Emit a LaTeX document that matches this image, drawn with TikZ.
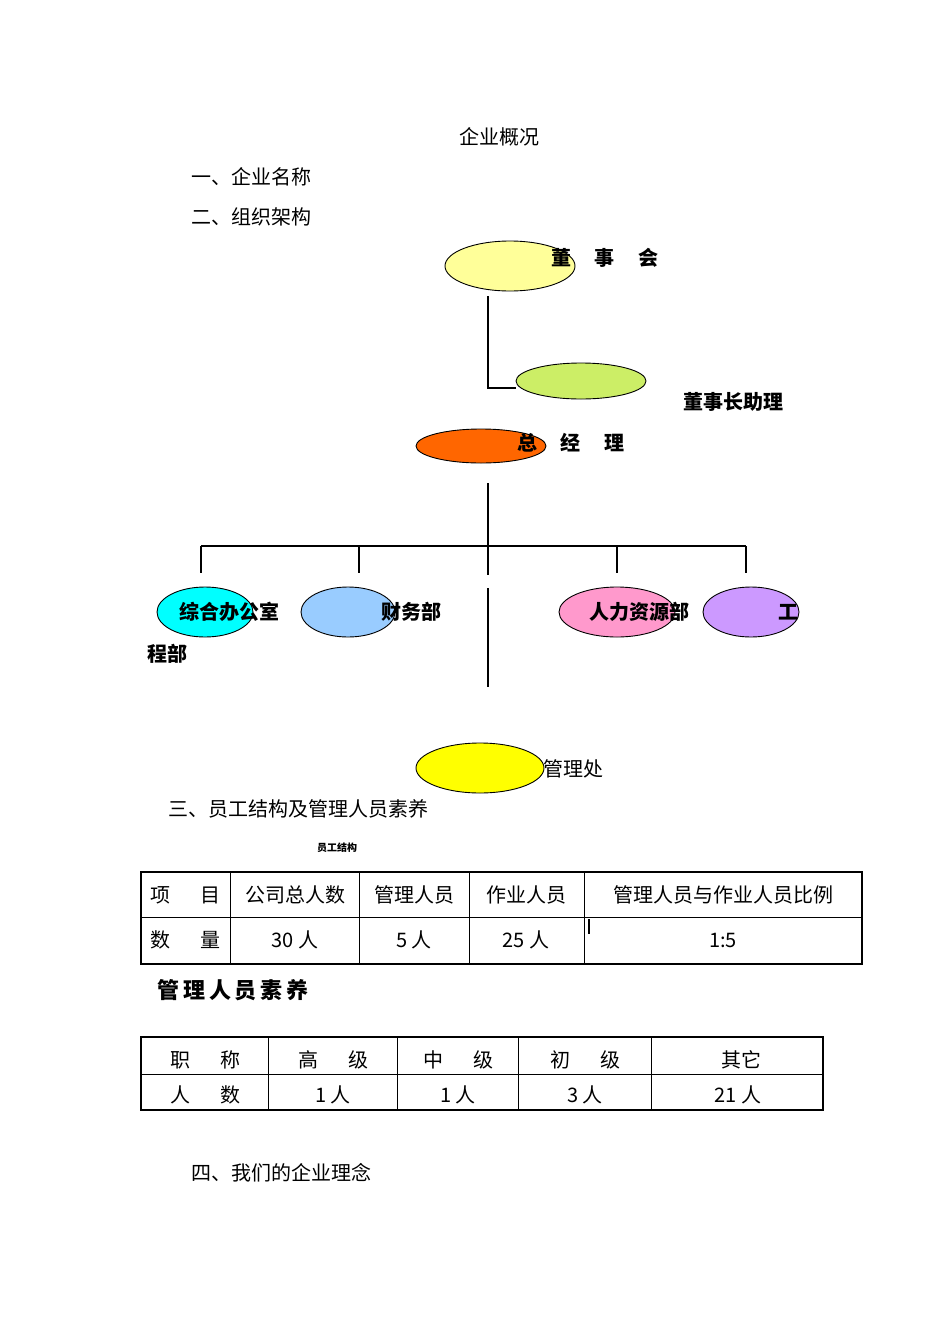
\documentclass[tikz,border=0pt]{standalone}
\usepackage{fontspec}
\setmainfont{Noto Sans CJK SC}
\begin{document}
\begin{tikzpicture}[x=1pt,y=-1pt,
  ell/.style={draw,ellipse,line width=0.9pt},
  lbl/.style={font=\fontsize{20}{24}\selectfont\bfseries,inner sep=0},
  txt/.style={font=\fontsize{20}{24}\selectfont,inner sep=0},
  ln/.style={line width=1.2pt},
  tb/.style={line width=2.5pt},
  tc/.style={line width=1pt}]
\useasboundingbox[fill=white] (0,0) rectangle (950,1344);
\node[txt] (t0) at (499,137) {企业概况};
\node[txt,anchor=west] (t1) at (191,177) {一、企业名称};
\node[txt,anchor=west] (t2) at (191,217) {二、组织架构};
% org chart
\fill[fill={rgb,255:red,255;green,255;blue,153},draw=black,line width=0.9pt] (510,266) ellipse [x radius=65,y radius=25];
\node[lbl] (dsh) at (605,258) {董\hspace{1.2em}事\hspace{1.2em}会};
\coordinate (a1) at (488,296);
\coordinate (a2) at (488,388);
\coordinate (a3) at (516,388);
\draw[ln] (a1) -- (a2) -- (a3);
\fill[fill={rgb,255:red,204;green,238;blue,102},draw=black,line width=0.9pt] (581,381) ellipse [x radius=65,y radius=18];
\node[lbl] (zl) at (733,402) {董事长助理};
\fill[fill={rgb,255:red,255;green,102;blue,0},draw=black,line width=0.9pt] (481,446) ellipse [x radius=65,y radius=17];
\node[lbl] (zjl) at (571,443) {总\hspace{1.2em}经\hspace{1.2em}理};
\coordinate (b1) at (488,483);
\coordinate (b2) at (488,575);
\draw[ln] (b1) -- (b2);
\draw[ln] (201,546) -- (746,546);
\foreach \x in {201,359,617,746} \draw[ln] (\x,546) -- (\x,573);
\draw[ln] (488,588) -- (488,687);
\fill[fill={rgb,255:red,0;green,255;blue,255},draw=black,line width=0.9pt] (205,612) ellipse [x radius=48,y radius=25];
\fill[fill={rgb,255:red,153;green,204;blue,255},draw=black,line width=0.9pt] (348,612) ellipse [x radius=47,y radius=25];
\fill[fill={rgb,255:red,255;green,153;blue,204},draw=black,line width=0.9pt] (617,612) ellipse [x radius=58,y radius=25];
\fill[fill={rgb,255:red,204;green,153;blue,255},draw=black,line width=0.9pt] (751,612) ellipse [x radius=48,y radius=25];
\node[lbl] (d1) at (229,612) {综合办公室};
\node[lbl] (d2) at (411,612) {财务部};
\node[lbl] (d3) at (639,612) {人力资源部};
\node[lbl] (d4) at (788,612) {工};
\node[lbl] (d5) at (167,654) {程部};
\fill[fill={rgb,255:red,255;green,255;blue,0},draw=black,line width=0.9pt] (480,768) ellipse [x radius=64,y radius=25];
\node[txt] (glc) at (573,769) {管理处};
\node[txt,anchor=west] (t3) at (168,809) {三、员工结构及管理人员素养};
\node[font=\fontsize{10}{12}\selectfont\bfseries,inner sep=0] (yg) at (337,848) {员工结构};
% table 1
\draw[tc] (141,917) -- (862,917);
\foreach \x in {230,359,469,584} \draw[tc] (\x,872) -- (\x,964);
\draw[tb] (141,872) rectangle (862,964);
\draw[line width=1.2pt] (589,919) -- (589,934);
\node[txt] (c11) at (185,895) {项\hspace{1.5em}目};
\node[txt] (c12) at (295,895) {公司总人数};
\node[txt] (c13) at (414,895) {管理人员};
\node[txt] (c14) at (526,895) {作业人员};
\node[txt] (c15) at (723,895) {管理人员与作业人员比例};
\node[txt] (c21) at (185,940) {数\hspace{1.5em}量};
\node[txt] (c22) at (295,940) {30 人};
\node[txt] (c23) at (414,940) {5 人};
\node[txt] (c24) at (526,940) {25 人};
\node[txt] (c25) at (723,940) {1:5};
\node[font=\fontsize{22}{26}\selectfont\bfseries,inner sep=0] (sy) at (233,990) {管\,理\,人\,员\,素\,养};
% table 2
\draw[tc] (141,1074) -- (823,1074);
\foreach \x in {268,397,518,651} \draw[tc] (\x,1037) -- (\x,1110);
\draw[tb] (141,1037) rectangle (823,1110);
\node[txt] (e11) at (205,1060) {职\hspace{1.5em}称};
\node[txt] (e12) at (333,1060) {高\hspace{1.5em}级};
\node[txt] (e13) at (458,1060) {中\hspace{1.5em}级};
\node[txt] (e14) at (585,1060) {初\hspace{1.5em}级};
\node[txt] (e15) at (741,1060) {其它};
\node[txt] (e21) at (205,1095) {人\hspace{1.5em}数};
\node[txt] (e22) at (333,1095) {1 人};
\node[txt] (e23) at (458,1095) {1 人};
\node[txt] (e24) at (585,1095) {3 人};
\node[txt] (e25) at (738,1095) {21 人};
\node[txt,anchor=west] (t4) at (191,1173) {四、我们的企业理念};
\end{tikzpicture}
\end{document}
